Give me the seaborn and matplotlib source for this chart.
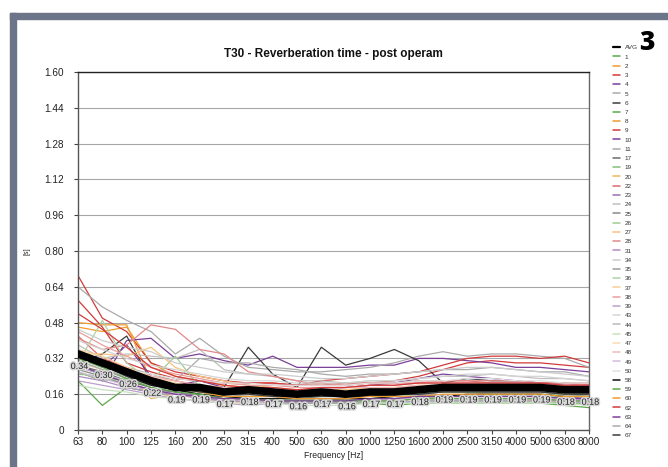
import matplotlib
matplotlib.use("Agg")
import matplotlib.pyplot as plt
import matplotlib.patheffects as pe
from matplotlib.patches import Rectangle
from matplotlib.lines import Line2D
from matplotlib.colors import to_rgb
import numpy as np
import pandas as pd
import seaborn as sns

# Third-octave band centre frequencies [Hz]
freqs = ["63", "80", "100", "125", "160", "200", "250", "315", "400", "500", "630",
         "800", "1000", "1250", "1600", "2000", "2500", "3150", "4000", "5000", "6300", "8000"]

# Average reverberation time over all measurement positions [s]
avg = [0.34, 0.30, 0.26, 0.22, 0.19, 0.19, 0.17, 0.18, 0.17, 0.16, 0.17,
       0.16, 0.17, 0.17, 0.18, 0.19, 0.19, 0.19, 0.19, 0.19, 0.18, 0.18]

# T30 per measurement position [s]
p1 = [0.30, 0.24, 0.20, 0.18, 0.16, 0.15, 0.14, 0.13, 0.13, 0.12, 0.12, 0.12, 0.12, 0.12, 0.13, 0.13, 0.13, 0.13, 0.13, 0.13, 0.12, 0.12]
p2 = [0.46, 0.44, 0.46, 0.30, 0.24, 0.22, 0.20, 0.19, 0.18, 0.17, 0.17, 0.17, 0.18, 0.18, 0.19, 0.20, 0.20, 0.20, 0.20, 0.19, 0.19, 0.18]
p3 = [0.69, 0.50, 0.44, 0.30, 0.26, 0.24, 0.22, 0.21, 0.21, 0.20, 0.20, 0.21, 0.21, 0.22, 0.24, 0.27, 0.30, 0.31, 0.30, 0.30, 0.29, 0.28]
p4 = [0.26, 0.22, 0.40, 0.41, 0.32, 0.34, 0.31, 0.29, 0.33, 0.28, 0.28, 0.28, 0.29, 0.29, 0.32, 0.32, 0.31, 0.30, 0.28, 0.28, 0.27, 0.26]
p5 = [0.64, 0.55, 0.49, 0.44, 0.34, 0.41, 0.33, 0.28, 0.27, 0.26, 0.26, 0.27, 0.28, 0.30, 0.33, 0.35, 0.33, 0.34, 0.34, 0.33, 0.32, 0.28]
p6 = [0.30, 0.34, 0.42, 0.22, 0.20, 0.18, 0.19, 0.37, 0.25, 0.19, 0.37, 0.29, 0.32, 0.36, 0.31, 0.21, 0.23, 0.22, 0.22, 0.21, 0.21, 0.20]
p7 = [0.22, 0.11, 0.19, 0.17, 0.20, 0.15, 0.14, 0.13, 0.13, 0.12, 0.12, 0.12, 0.12, 0.11, 0.12, 0.12, 0.12, 0.12, 0.12, 0.12, 0.11, 0.10]
p8 = [0.48, 0.47, 0.47, 0.22, 0.20, 0.18, 0.17, 0.16, 0.16, 0.15, 0.16, 0.16, 0.17, 0.17, 0.17, 0.18, 0.18, 0.18, 0.18, 0.18, 0.17, 0.17]
p9 = [0.58, 0.46, 0.30, 0.26, 0.23, 0.22, 0.21, 0.21, 0.21, 0.20, 0.22, 0.23, 0.24, 0.25, 0.26, 0.29, 0.32, 0.33, 0.33, 0.32, 0.33, 0.30]
p10 = [0.33, 0.28, 0.38, 0.24, 0.20, 0.22, 0.19, 0.18, 0.18, 0.18, 0.18, 0.19, 0.20, 0.21, 0.23, 0.25, 0.24, 0.23, 0.22, 0.21, 0.20, 0.20]
p11 = [0.36, 0.30, 0.28, 0.25, 0.22, 0.32, 0.30, 0.30, 0.28, 0.27, 0.25, 0.24, 0.25, 0.25, 0.26, 0.27, 0.27, 0.28, 0.27, 0.26, 0.26, 0.24]
p17 = [0.29, 0.26, 0.22, 0.19, 0.17, 0.15, 0.15, 0.15, 0.15, 0.14, 0.15, 0.15, 0.15, 0.16, 0.16, 0.17, 0.17, 0.17, 0.17, 0.17, 0.16, 0.16]
p19 = [0.25, 0.24, 0.22, 0.20, 0.18, 0.16, 0.15, 0.14, 0.14, 0.14, 0.14, 0.14, 0.14, 0.15, 0.15, 0.15, 0.15, 0.15, 0.15, 0.15, 0.14, 0.14]
p20 = [0.32, 0.30, 0.25, 0.14, 0.16, 0.14, 0.13, 0.12, 0.13, 0.13, 0.13, 0.13, 0.13, 0.13, 0.14, 0.14, 0.14, 0.14, 0.14, 0.13, 0.13, 0.13]
p22 = [0.42, 0.32, 0.28, 0.24, 0.22, 0.20, 0.19, 0.19, 0.20, 0.20, 0.21, 0.20, 0.21, 0.21, 0.22, 0.22, 0.22, 0.21, 0.21, 0.21, 0.21, 0.21]
p23 = [0.28, 0.25, 0.21, 0.18, 0.17, 0.15, 0.13, 0.13, 0.13, 0.13, 0.13, 0.13, 0.14, 0.14, 0.14, 0.15, 0.15, 0.15, 0.15, 0.15, 0.15, 0.14]
p24 = [0.38, 0.32, 0.34, 0.33, 0.32, 0.36, 0.27, 0.25, 0.24, 0.22, 0.22, 0.21, 0.22, 0.22, 0.23, 0.24, 0.24, 0.25, 0.24, 0.23, 0.23, 0.22]
p25 = [0.27, 0.24, 0.20, 0.18, 0.16, 0.15, 0.14, 0.14, 0.14, 0.13, 0.13, 0.14, 0.14, 0.14, 0.15, 0.15, 0.15, 0.15, 0.15, 0.15, 0.14, 0.14]
p26 = [0.26, 0.22, 0.23, 0.22, 0.33, 0.19, 0.17, 0.16, 0.15, 0.15, 0.16, 0.16, 0.16, 0.16, 0.17, 0.17, 0.17, 0.16, 0.16, 0.16, 0.16, 0.15]
p27 = [0.34, 0.34, 0.33, 0.37, 0.28, 0.24, 0.22, 0.20, 0.19, 0.18, 0.18, 0.18, 0.19, 0.19, 0.20, 0.20, 0.20, 0.20, 0.20, 0.20, 0.19, 0.19]
p28 = [0.41, 0.36, 0.38, 0.47, 0.45, 0.36, 0.34, 0.26, 0.24, 0.22, 0.20, 0.20, 0.21, 0.21, 0.21, 0.22, 0.22, 0.22, 0.22, 0.21, 0.21, 0.20]
p31 = [0.24, 0.22, 0.19, 0.17, 0.16, 0.14, 0.13, 0.13, 0.12, 0.12, 0.13, 0.13, 0.13, 0.13, 0.14, 0.14, 0.14, 0.14, 0.14, 0.14, 0.13, 0.13]
p34 = [0.45, 0.40, 0.37, 0.35, 0.30, 0.28, 0.26, 0.25, 0.25, 0.24, 0.23, 0.23, 0.24, 0.25, 0.26, 0.27, 0.28, 0.28, 0.27, 0.26, 0.25, 0.24]
p35 = [0.31, 0.27, 0.23, 0.20, 0.18, 0.17, 0.16, 0.15, 0.15, 0.15, 0.15, 0.15, 0.16, 0.16, 0.17, 0.17, 0.18, 0.18, 0.18, 0.18, 0.17, 0.17]
p36 = [0.30, 0.49, 0.30, 0.22, 0.20, 0.17, 0.15, 0.14, 0.14, 0.13, 0.13, 0.13, 0.14, 0.14, 0.14, 0.15, 0.15, 0.15, 0.15, 0.15, 0.15, 0.15]
p37 = [0.36, 0.33, 0.28, 0.24, 0.21, 0.19, 0.18, 0.17, 0.17, 0.16, 0.16, 0.17, 0.17, 0.17, 0.18, 0.18, 0.18, 0.19, 0.19, 0.18, 0.18, 0.18]
p38 = [0.44, 0.38, 0.33, 0.28, 0.25, 0.23, 0.21, 0.20, 0.20, 0.19, 0.19, 0.19, 0.20, 0.20, 0.21, 0.21, 0.21, 0.21, 0.21, 0.21, 0.20, 0.20]
p39 = [0.22, 0.20, 0.18, 0.16, 0.14, 0.13, 0.12, 0.11, 0.12, 0.12, 0.12, 0.12, 0.12, 0.12, 0.13, 0.13, 0.13, 0.13, 0.13, 0.13, 0.13, 0.12]
p43 = [0.40, 0.36, 0.32, 0.29, 0.27, 0.25, 0.23, 0.22, 0.22, 0.21, 0.21, 0.21, 0.22, 0.22, 0.23, 0.24, 0.25, 0.25, 0.24, 0.24, 0.23, 0.22]
p44 = [0.28, 0.25, 0.22, 0.20, 0.18, 0.17, 0.16, 0.16, 0.16, 0.16, 0.16, 0.16, 0.16, 0.17, 0.17, 0.18, 0.18, 0.18, 0.18, 0.18, 0.17, 0.17]
p45 = [0.20, 0.18, 0.17, 0.15, 0.14, 0.13, 0.12, 0.12, 0.12, 0.11, 0.11, 0.11, 0.12, 0.12, 0.12, 0.12, 0.12, 0.12, 0.12, 0.12, 0.12, 0.11]
p47 = [0.30, 0.27, 0.24, 0.22, 0.20, 0.19, 0.18, 0.17, 0.17, 0.17, 0.17, 0.17, 0.18, 0.18, 0.18, 0.19, 0.19, 0.19, 0.19, 0.19, 0.18, 0.18]
p48 = [0.35, 0.31, 0.27, 0.24, 0.22, 0.20, 0.19, 0.19, 0.18, 0.18, 0.18, 0.19, 0.19, 0.19, 0.20, 0.20, 0.20, 0.20, 0.20, 0.20, 0.19, 0.19]
p49 = [0.26, 0.23, 0.20, 0.18, 0.16, 0.15, 0.14, 0.13, 0.13, 0.13, 0.13, 0.13, 0.13, 0.14, 0.14, 0.14, 0.14, 0.14, 0.14, 0.14, 0.14, 0.13]
p50 = [0.33, 0.30, 0.27, 0.25, 0.23, 0.22, 0.21, 0.21, 0.20, 0.20, 0.20, 0.20, 0.21, 0.21, 0.22, 0.22, 0.23, 0.23, 0.22, 0.22, 0.21, 0.21]
p58 = [0.34, 0.30, 0.24, 0.20, 0.18, 0.16, 0.15, 0.14, 0.14, 0.14, 0.14, 0.14, 0.14, 0.15, 0.15, 0.15, 0.16, 0.16, 0.16, 0.16, 0.15, 0.15]
p59 = [0.32, 0.28, 0.23, 0.19, 0.17, 0.16, 0.14, 0.14, 0.13, 0.13, 0.13, 0.13, 0.13, 0.13, 0.14, 0.14, 0.14, 0.14, 0.14, 0.14, 0.13, 0.13]
p60 = [0.33, 0.30, 0.26, 0.22, 0.19, 0.17, 0.15, 0.15, 0.15, 0.14, 0.14, 0.14, 0.15, 0.15, 0.15, 0.16, 0.16, 0.16, 0.16, 0.16, 0.15, 0.15]
p62 = [0.52, 0.45, 0.37, 0.28, 0.24, 0.22, 0.20, 0.19, 0.19, 0.18, 0.19, 0.19, 0.20, 0.20, 0.21, 0.21, 0.21, 0.21, 0.21, 0.21, 0.20, 0.20]
p63 = [0.29, 0.25, 0.21, 0.18, 0.16, 0.15, 0.14, 0.14, 0.13, 0.13, 0.13, 0.13, 0.14, 0.14, 0.15, 0.15, 0.15, 0.15, 0.15, 0.15, 0.14, 0.14]
p64 = [0.31, 0.27, 0.24, 0.21, 0.19, 0.18, 0.17, 0.17, 0.17, 0.17, 0.17, 0.17, 0.17, 0.18, 0.18, 0.18, 0.19, 0.19, 0.19, 0.18, 0.18, 0.18]
p67 = [0.33, 0.29, 0.24, 0.21, 0.19, 0.17, 0.16, 0.16, 0.15, 0.15, 0.15, 0.15, 0.16, 0.16, 0.16, 0.17, 0.17, 0.17, 0.17, 0.17, 0.16, 0.16]

positions = ["1", "2", "3", "4", "5", "6", "7", "8", "9", "10", "11", "17", "19", "20",
             "22", "23", "24", "25", "26", "27", "28", "31", "34", "35", "36", "37", "38",
             "39", "43", "44", "45", "47", "48", "49", "50", "58", "59", "60", "62", "63",
             "64", "67"]
series = [p1, p2, p3, p4, p5, p6, p7, p8, p9, p10, p11, p17, p19, p20, p22, p23, p24,
          p25, p26, p27, p28, p31, p34, p35, p36, p37, p38, p39, p43, p44, p45, p47, p48,
          p49, p50, p58, p59, p60, p62, p63, p64, p67]

# Colour cycle of six hues, paler in the middle groups of the list
base = ["#3a3a3a", "#5ea84a", "#ef9d2e", "#d23a3a", "#7b3f98", "#aaaaaa"]
pale = [0.0, 0.0, 0.25, 0.4, 0.5, 0.65, 0.0, 0.0]


def tint(c, f):
    r = np.array(to_rgb(c))
    return tuple(r + (1 - r) * f)


colors = {}
for i, name in enumerate(positions, start=1):
    colors[name] = tint(base[i % 6], pale[i // 6])
colors["58"] = "#111111"

rows = []
for name, vals in zip(positions, series):
    for k, v in enumerate(vals):
        rows.append((name, k, v))
df = pd.DataFrame(rows, columns=["pos", "band", "t30"])
df_avg = pd.DataFrame({"band": range(len(freqs)), "t30": avg})

sns.set_theme(style="white")
plt.rcParams["font.family"] = ["Liberation Sans", "DejaVu Sans"]

fig = plt.figure(figsize=(6.68, 4.67), dpi=100)
ax = fig.add_axes([0.1168, 0.0792, 0.7649, 0.7666])

# Slate frame along top and left edge
fig.patches.append(Rectangle((10 / 668, 1 - 19 / 467), 1, 6 / 467, transform=fig.transFigure,
                             color="#6b7488", zorder=0))
fig.patches.append(Rectangle((10 / 668, 0), 6 / 668, 1 - 13 / 467, transform=fig.transFigure,
                             color="#6b7488", zorder=0))

sns.lineplot(data=df, x="band", y="t30", hue="pos", hue_order=positions,
             palette=colors, linewidth=0.9, legend=False, ax=ax, zorder=2)
sns.lineplot(data=df_avg, x="band", y="t30", color="black", linewidth=5.5,
             legend=False, ax=ax, zorder=4)

for k, v in enumerate(avg):
    ax.annotate(f"{v:.2f}", (k, v), xytext=(1, -9), textcoords="offset points",
                ha="center", va="center", fontsize=6.5, color="#222222", zorder=5,
                path_effects=[pe.withStroke(linewidth=2.2, foreground="#d8d8d8")])

ax.set_xlim(0, len(freqs) - 1)
ax.set_ylim(0, 1.6)
yt = np.arange(0, 1.61, 0.16)
ax.set_yticks(yt)
ax.set_yticklabels(["0"] + [f"{t:.2f}" for t in yt[1:]])
ax.set_xticks(range(len(freqs)))
ax.set_xticklabels(freqs)
ax.tick_params(axis="both", labelsize=7.2, length=3, width=0.8, color="#444444",
               labelcolor="#222222", bottom=True, left=True)
ax.tick_params(axis="y", pad=7)
ax.tick_params(axis="x", pad=2)
ax.yaxis.grid(True, color="#a6a6a6", linewidth=0.8)
ax.set_axisbelow(True)
for side in ["left", "bottom"]:
    ax.spines[side].set_color("#555555")
    ax.spines[side].set_linewidth(1.0)
ax.spines["top"].set_color("#222222")
ax.spines["top"].set_linewidth(1.0)
ax.spines["right"].set_color("#666666")
ax.spines["right"].set_linewidth(1.0)

ax.set_xlabel("Frequency [Hz]", fontsize=6.2, color="#222222", labelpad=3)
ax.set_ylabel("[s]", fontsize=5, color="#222222", labelpad=10)
ax.set_title("T30 - Reverberation time - post operam", fontsize=8.5,
             fontweight="bold", color="#111111", pad=11)

# Legend listing the average and every measurement position
handles = [Line2D([], [], color="black", linewidth=1.6)]
labels = ["AVG"]
for name in positions:
    handles.append(Line2D([], [], color=colors[name], linewidth=1.1))
    labels.append(name)
leg = fig.legend(handles, labels, loc="upper left", bbox_to_anchor=(0.917, 0.904),
                 frameon=False, fontsize=4.6, handlelength=1.2, handletextpad=0.7,
                 labelspacing=0.59, borderaxespad=0, borderpad=0)
for t in leg.get_texts():
    t.set_color("#333333")

fig.text(0.957, 0.908, "3", fontsize=19, fontweight="heavy", color="black",
         ha="left", va="center", family=["Open Sans", "DejaVu Sans"])

fig.savefig("out.png", dpi=100, facecolor="white")
